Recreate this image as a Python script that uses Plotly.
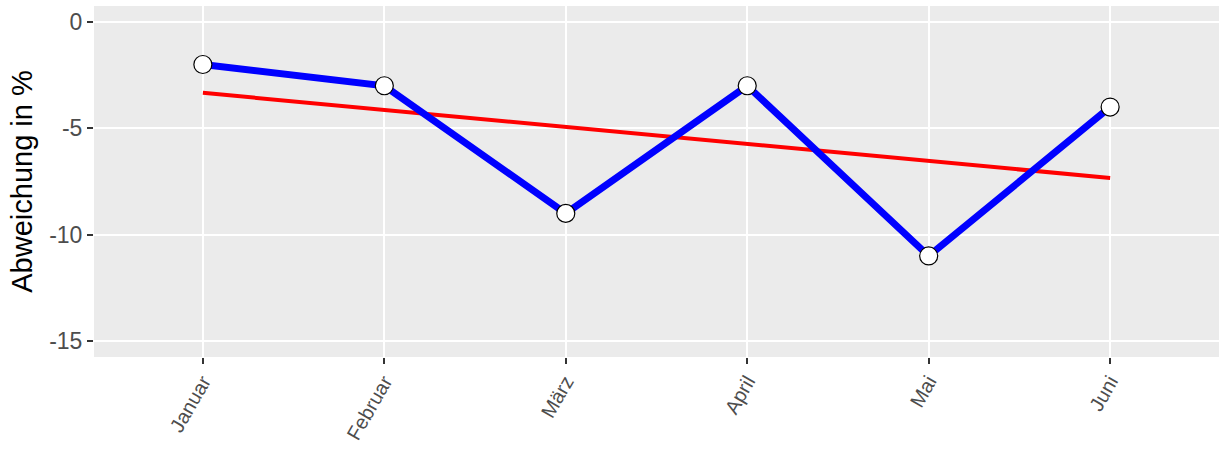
import numpy as np
import plotly.graph_objects as go

months = ["Januar", "Februar", "März", "April", "Mai", "Juni"]
abweichung = [-2, -3, -9, -3, -11, -4]
y_ticks = [0, -5, -10, -15]

x_pos = np.arange(1, len(months) + 1)
slope, intercept = np.polyfit(x_pos, abweichung, 1)
fit = slope * x_pos + intercept

fig = go.Figure()
fig.add_trace(go.Scatter(x=x_pos, y=fit, mode="lines",
                         line=dict(color="#FF0000", width=4), hoverinfo="skip"))
fig.add_trace(go.Scatter(x=x_pos, y=abweichung, mode="lines",
                         line=dict(color="#0000FF", width=7)))
fig.add_trace(go.Scatter(x=x_pos, y=abweichung, mode="markers",
                         marker=dict(size=18, color="white",
                                     line=dict(color="black", width=1.2))))

fig.update_layout(
    width=1219, height=450,
    margin=dict(l=94, r=0, t=6, b=93, autoexpand=False),
    paper_bgcolor="white", plot_bgcolor="#EBEBEB",
    showlegend=False,
    font=dict(family="Liberation Sans, Arial, sans-serif"),
)
fig.update_xaxes(
    range=[0.4, 6.6], tickvals=list(x_pos), ticktext=months, automargin=False,
    tickangle=-60, ticks="outside", ticklen=6, tickwidth=2, tickcolor="#333333",
    tickfont=dict(size=20, color="#4D4D4D"), ticklabelstandoff=-2,
    showgrid=True, gridcolor="white", gridwidth=2, zeroline=False, showline=False,
)
fig.update_yaxes(
    range=[-15.75, 0.75], tickvals=y_ticks, ticktext=[str(v) for v in y_ticks],
    automargin=False,
    ticks="outside", ticklen=6, tickwidth=2, tickcolor="#333333",
    tickfont=dict(size=23, color="#4D4D4D"),
    showgrid=True, gridcolor="white", gridwidth=2, zeroline=False, showline=False,
    title=dict(text="Abweichung in %", font=dict(size=29, color="black"), standoff=8),
)
fig.write_html("out.html", config={"displayModeBar": False},
               post_script="document.body.style.margin='0';document.body.style.padding='0';")
